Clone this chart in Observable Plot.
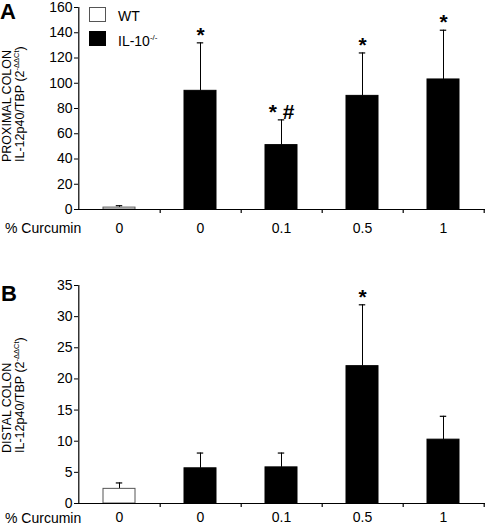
<!DOCTYPE html>
<html><head><meta charset="utf-8">
<script src="https://cdn.jsdelivr.net/npm/d3@7"></script>
<script src="https://cdn.jsdelivr.net/npm/@observablehq/plot@0.6"></script>
<style>
body{margin:0;background:#fff;font-family:"Liberation Sans",Arial,sans-serif;color:#000;}
#wrap{position:relative;width:490px;height:528px;overflow:hidden;}
.panel{position:absolute;left:0;}
.letter{position:absolute;font-weight:bold;font-size:22px;line-height:22px;}
.leg{position:absolute;font-size:14px;line-height:12px;white-space:nowrap;}
.leg sup{font-size:8px;vertical-align:6px;line-height:0;}
.box{position:absolute;box-sizing:border-box;width:17px;height:15px;border:1px solid #000;}
#ylabs{position:absolute;left:0;top:0;width:40px;height:528px;overflow:visible;}
</style>
</head><body>
<div id="wrap"></div>
<script>
// ---- data ----
const ids = ["wt0", "ko0", "ko01", "ko05", "ko1"];
const groups = ["WT", "IL-10-/-", "IL-10-/-", "IL-10-/-", "IL-10-/-"];
const curcumin = ["0", "0", "0.1", "0.5", "1"];
// Panel A: proximal colon
const proxMean = [1.5, 94, 51, 90, 103];
const proxErr = [1.5, 38, 20, 34, 39];
const proxSig = ["", "*", "* #", "*", "*"];
// Panel B: distal colon
const distMean = [2.35, 5.65, 5.8, 22.05, 10.25];
const distErr = [0.95, 2.45, 2.3, 9.85, 3.75];
const distSig = ["", "", "", "*", ""];
const legendLabels = ["WT", "IL-10"];
const yTitleA = "PROXIMAL COLON";
const yTitleB = "DISTAL COLON";
const yUnit = "IL-12p40/TBP (2";
const yUnitSup = "-ΔΔCt";
const yTicksA = [0, 20, 40, 60, 80, 100, 120, 140, 160];
const yTicksB = [0, 5, 10, 15, 20, 25, 30, 35];

const W = 490, ML = 78, MR = 5;
const step = (W - ML - MR) / ids.length;
const bw = step * 0.4;

function panel(mean, err, sig, yTicks, height, mt, mb, tickPad) {
  const data = ids.map((id, i) => ({id, group: groups[i], v: mean[i], top: mean[i] + err[i], s: sig[i]}));
  return Plot.plot({
    width: W, height, marginLeft: ML, marginRight: MR, marginTop: mt, marginBottom: mb,
    style: {fontFamily: '"Liberation Sans", Arial, sans-serif', fontSize: "14px", color: "#000", background: "#fff", overflow: "visible"},
    x: {domain: ids, paddingInner: 0.6, paddingOuter: 0.3, tickSize: 0, tickPadding: tickPad,
        tickFormat: (d) => curcumin[ids.indexOf(d)], label: null},
    y: {domain: [0, yTicks[yTicks.length - 1]], ticks: yTicks, tickSize: 4, tickPadding: 2, label: null},
    color: {domain: ["WT", "IL-10-/-"], range: ["#fff", "#000"]},
    marks: [
      Plot.ruleX(data, {x: "id", y1: "v", y2: "top", stroke: "#000", strokeWidth: 1}),
      Plot.tickY(data, {x: "id", y: "top", stroke: "#000", strokeWidth: 1.2, insetLeft: (bw - 7) / 2, insetRight: (bw - 7) / 2}),
      Plot.barY(data, {x: "id", y: "v", fill: "group", stroke: (d) => d.group === "WT" ? "#555" : "#000", strokeWidth: 1}),
      Plot.text(data, {x: "id", y: "top", text: "s", dy: -8, fontSize: 21, fontWeight: "bold"}),
      Plot.ruleY([0], {stroke: "#000", strokeWidth: 1.2}),
      Plot.ruleX([ids[0]], {dx: -step / 2, stroke: "#000", strokeWidth: 1.2}),
      Plot.ruleX(ids, {x: (d) => d, dx: step / 2, y1: 0, y2: 0, insetBottom: -4, stroke: "#000", strokeWidth: 1.2})
    ]
  });
}

const wrap = document.getElementById("wrap");

const a = panel(proxMean, proxErr, proxSig, yTicksA, 240, 7, 31, 14);
a.classList.add("panel"); a.style.top = "0px";
wrap.appendChild(a);

const b = panel(distMean, distErr, distSig, yTicksB, 258, 15, 25, 9);
b.classList.add("panel"); b.style.top = "270px";
wrap.appendChild(b);

function addHTML(html) { const t = document.createElement("div"); t.innerHTML = html; wrap.appendChild(t.firstElementChild); }

// rotated y-axis titles as SVG text
const ys = d3.select(wrap).append("svg").attr("id", "ylabs").attr("width", 40).attr("height", 528)
  .style("font-family", '"Liberation Sans", Arial, sans-serif').style("font-size", "12.5px");
function ytitle(title, bottom) {
  ys.append("text").attr("transform", `translate(11,${bottom}) rotate(-90)`).text(title);
  const t = ys.append("text").attr("transform", `translate(23.5,${bottom}) rotate(-90)`);
  t.append("tspan").text(yUnit);
  t.append("tspan").attr("font-size", "7.5px").attr("dy", "-5").text(yUnitSup);
  t.append("tspan").attr("dy", "5").text(")");
}
ytitle(yTitleA, 162);
ytitle(yTitleB, 453);

// panel letters
addHTML('<div class="letter" style="left:0px;top:1px">A</div>');
addHTML('<div class="letter" style="left:1px;top:283px">B</div>');
// x row label
addHTML('<div class="leg" style="left:5px;top:222px">% Curcumin</div>');
addHTML('<div class="leg" style="left:5px;top:512px">% Curcumin</div>');
// legend
addHTML('<div class="box" style="left:89px;top:7px;background:#fff;border-color:#555"></div>');
addHTML('<div class="box" style="left:89px;top:31px;background:#000"></div>');
addHTML('<div class="leg" style="left:118px;top:10px">' + legendLabels[0] + '</div>');
addHTML('<div class="leg" style="left:118px;top:35px">' + legendLabels[1] + '<sup>-/-</sup></div>');
</script>
</body></html>
